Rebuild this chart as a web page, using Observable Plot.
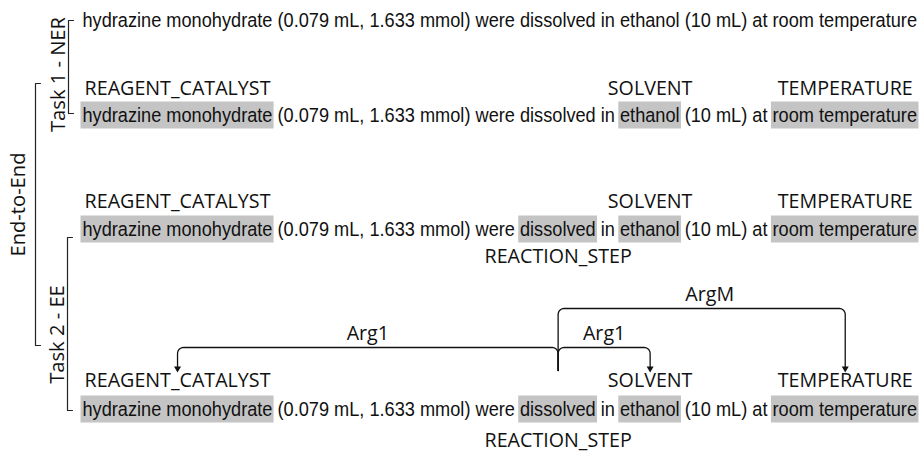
<!DOCTYPE html>
<html><head><meta charset="utf-8">
<script src="https://cdn.jsdelivr.net/npm/d3@7"></script>
<script src="https://cdn.jsdelivr.net/npm/@observablehq/plot@0.6"></script>
<style>html,body{margin:0;padding:0;background:#fff}</style>
</head><body><div id="chart"></div>
<script>
// ---------- data ----------
const sentence = "hydrazine monohydrate (0.079 mL, 1.633 mmol) were dissolved in ethanol (10 mL) at room temperature";
const spanNames = ["hydrazine monohydrate", "dissolved", "ethanol", "room temperature"];
const spanTypes = ["REAGENT_CATALYST", "REACTION_STEP", "SOLVENT", "TEMPERATURE"];
const rowNames = ["Task 1 input", "Task 1 output", "Task 2 triggers", "Task 2 output"];
const rowSpans = [[], [0, 2, 3], [0, 1, 2, 3], [0, 1, 2, 3]];
const argFrom = [1, 1, 1];
const argTo = [0, 2, 3];
const argLabels = ["Arg1", "Arg1", "ArgM"];
const argLevel = [0, 0, 1];
const bracketLabels = ["Task 1 - NER", "Task 2 - EE", "End-to-End"];

// ---------- layout ----------
const L = {
  sentX: 82, sentW: 835, sentSize: 19.5,
  sentY: [20, 115, 229, 409],
  aboveY: [null, 88, 201, 380],
  belowY: [null, null, 256, 440],
  boxHalf: 13.5, boxPad: 1.5,
  levelY: [347, 308], originBottom: 370, tipY: 372, corner: 6,
  bracketX: [68, 67, 35], bracketY1: [20, 237, 83], bracketY2: [113, 410, 345],
  bracketTextX: [58, 57, 18], bracketTextY: [74, 334, 204], tick: 5
};
const sentFont = '"Liberation Sans", Arial, sans-serif';
const labFont = '"Open Sans", "DejaVu Sans", sans-serif';

const ctx = document.createElement("canvas").getContext("2d");
function measure(t, fam, size) { ctx.font = `${size}px ${fam}`; return ctx.measureText(t).width; }
const sentScale = L.sentW / measure(sentence, sentFont, L.sentSize);
const labSize = 100 * 186 / measure("REAGENT_CATALYST", labFont, 100);
const brSize = 100 * 115 / measure("Task 1 - NER", labFont, 100);

const spanChars = spanNames.map(n => { const i = sentence.indexOf(n); return [i, i + n.length]; });
const xOf = i => L.sentX + sentScale * measure(sentence.slice(0, i), sentFont, L.sentSize);
const spanX1 = k => xOf(spanChars[k][0]);
const spanX2 = k => xOf(spanChars[k][1]);
const spanC = k => (spanX1(k) + spanX2(k)) / 2;

const sentences = rowNames.map((name, r) => ({name, x: L.sentX, y: L.sentY[r], text: sentence}));
const boxes = [], labels = [];
rowSpans.forEach((spans, r) => spans.forEach(k => {
  boxes.push({x1: spanX1(k) - L.boxPad, x2: spanX2(k) + L.boxPad, y1: L.sentY[r] - L.boxHalf, y2: L.sentY[r] + L.boxHalf});
  labels.push({x: spanC(k), y: spanTypes[k] === "REACTION_STEP" ? L.belowY[r] : L.aboveY[r], text: spanTypes[k]});
}));

const brackets = [];
bracketLabels.forEach((b, i) => {
  const x = L.bracketX[i];
  [[x + L.tick, L.bracketY1[i]], [x, L.bracketY1[i]], [x, L.bracketY2[i]], [x + L.tick, L.bracketY2[i]]]
    .forEach(([px, py]) => brackets.push({b, x: px, y: py}));
});
const bracketText = bracketLabels.map((b, i) => ({text: b, x: L.bracketTextX[i], y: L.bracketTextY[i]}));

const arcPts = [], arcLabels = [], arrows = [];
const arrowR = 2.6;
const triY = Math.sqrt(arrowR * arrowR * Math.PI / (3 * Math.sqrt(3)));
argLabels.forEach((lab, a) => {
  const x0 = spanC(argFrom[a]), x1 = spanC(argTo[a]);
  const yl = L.levelY[argLevel[a]], r = L.corner, dir = Math.sign(x1 - x0);
  const pts = [[x0, L.originBottom]];
  for (let t = 0; t <= 8; t++) { const th = Math.PI / 2 * t / 8; pts.push([x0 + dir * r - dir * r * Math.cos(th), yl + r - r * Math.sin(th)]); }
  for (let t = 0; t <= 8; t++) { const th = Math.PI / 2 * t / 8; pts.push([x1 - dir * r + dir * r * Math.sin(th), yl + r - r * Math.cos(th)]); }
  pts.push([x1, L.tipY - 3 * triY + 1]);
  pts.forEach(([x, y]) => arcPts.push({a, x, y}));
  arcLabels.push({text: lab, x: (x0 + x1) / 2 + (argLevel[a] ? 8 : 0), y: yl - 14});
  arrows.push({x: x1, y: L.tipY - 2 * triY});
});

const chart = Plot.plot({
  width: 922, height: 453, margin: 0,
  x: {domain: [0, 922], range: [0, 922], axis: null},
  y: {domain: [0, 453], range: [0, 453], axis: null},
  style: {background: "#fff"},
  marks: [
    Plot.rect(boxes, {x1: "x1", x2: "x2", y1: "y1", y2: "y2", fill: "#c4c4c4"}),
    Plot.text(sentences, {x: "x", y: "y", text: "text", textAnchor: "start", fontFamily: sentFont, fontSize: L.sentSize, fill: "#111"}),
    Plot.text(labels, {x: "x", y: "y", text: "text", fontFamily: labFont, fontSize: labSize, fill: "#111"}),
    Plot.line(brackets, {x: "x", y: "y", z: "b", stroke: "#222", strokeWidth: 1.2, curve: "linear"}),
    Plot.text(bracketText, {x: "x", y: "y", text: "text", rotate: -90, fontFamily: labFont, fontSize: brSize, fill: "#111"}),
    Plot.line(arcPts, {x: "x", y: "y", z: "a", stroke: "#111", strokeWidth: 1.3, curve: "linear"}),
    Plot.dot(arrows, {x: "x", y: "y", symbol: "triangle", r: arrowR, rotate: 180, fill: "#111", stroke: "none"}),
    Plot.text(arcLabels, {x: "x", y: "y", text: "text", fontFamily: labFont, fontSize: labSize, fill: "#111"})
  ]
});
// condense the sentence text horizontally so it fills its measured span
d3.select(chart).selectAll("text").filter(function() { return this.textContent === sentence; })
  .each(function() {
    const t = this.getAttribute("transform") || "";
    this.setAttribute("transform", `${t} scale(${sentScale},1)`);
  });
document.getElementById("chart").appendChild(chart);
</script>
</body></html>
